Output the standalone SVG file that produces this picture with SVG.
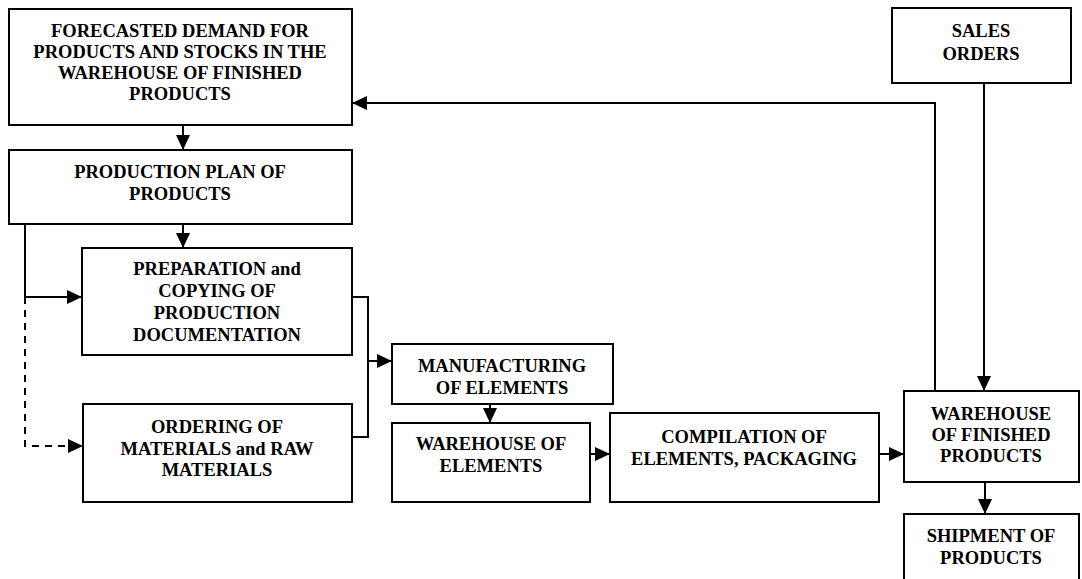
<svg xmlns="http://www.w3.org/2000/svg" width="1082" height="579" viewBox="0 0 1082 579">
  <style>
    .box { fill: #ffffff; stroke: #000000; stroke-width: 2; }
    .lbl { font-family: "Liberation Serif", "Times New Roman", serif; font-weight: bold; font-size: 18.5px; fill: #000000; text-anchor: middle; }
    .wire { fill: none; stroke: #000000; stroke-width: 2; }
    .dash { stroke-dasharray: 7 6; }
  </style>
  <defs>
    <marker id="head" markerUnits="userSpaceOnUse" markerWidth="15" markerHeight="14" refX="15" refY="7" orient="auto">
      <path d="M0,0 L15,7 L0,14 Z" fill="#000000"/>
    </marker>
  </defs>
  <rect width="1082" height="579" fill="#ffffff"/>

  <g id="connectors">
    <path class="wire" d="M183,125 V150" marker-end="url(#head)"/>
    <path class="wire" d="M183,224 V248" marker-end="url(#head)"/>
    <path class="wire" d="M25,224 V297 H82" marker-end="url(#head)"/>
    <path class="wire dash" d="M25,297 V446 H83" marker-end="url(#head)"/>
    <path class="wire" d="M352,297 H368 V437 H352"/>
    <path class="wire" d="M368,361 H392" marker-end="url(#head)"/>
    <path class="wire" d="M490,404 V423" marker-end="url(#head)"/>
    <path class="wire" d="M590,454 H610" marker-end="url(#head)"/>
    <path class="wire" d="M879,454 H904" marker-end="url(#head)"/>
    <path class="wire" d="M984,83 V391" marker-end="url(#head)"/>
    <path class="wire" d="M935,391 V103 H352" marker-end="url(#head)"/>
    <path class="wire" d="M985,482 V514" marker-end="url(#head)"/>
  </g>

  <g id="forecast">
    <rect class="box" x="9" y="9" width="343" height="116"/>
    <text class="lbl" x="180" y="37">FORECASTED DEMAND FOR</text>
    <text class="lbl" x="180" y="58">PRODUCTS AND STOCKS IN THE</text>
    <text class="lbl" x="180" y="79">WAREHOUSE OF FINISHED</text>
    <text class="lbl" x="180" y="100">PRODUCTS</text>
  </g>

  <g id="production-plan">
    <rect class="box" x="9" y="150" width="343" height="74"/>
    <text class="lbl" x="180" y="178">PRODUCTION PLAN OF</text>
    <text class="lbl" x="180" y="200">PRODUCTS</text>
  </g>

  <g id="documentation">
    <rect class="box" x="82" y="248" width="270" height="107"/>
    <text class="lbl" x="217" y="275">PREPARATION and</text>
    <text class="lbl" x="217" y="297">COPYING OF</text>
    <text class="lbl" x="217" y="319">PRODUCTION</text>
    <text class="lbl" x="217" y="341">DOCUMENTATION</text>
  </g>

  <g id="ordering">
    <rect class="box" x="83" y="404" width="269" height="98"/>
    <text class="lbl" x="217" y="433">ORDERING OF</text>
    <text class="lbl" x="217" y="455">MATERIALS and RAW</text>
    <text class="lbl" x="217" y="476">MATERIALS</text>
  </g>

  <g id="manufacturing">
    <rect class="box" x="392" y="344" width="221" height="60"/>
    <text class="lbl" x="502" y="372">MANUFACTURING</text>
    <text class="lbl" x="502" y="394">OF ELEMENTS</text>
  </g>

  <g id="element-store">
    <rect class="box" x="392" y="423" width="198" height="79"/>
    <text class="lbl" x="491" y="450">WAREHOUSE OF</text>
    <text class="lbl" x="491" y="472">ELEMENTS</text>
  </g>

  <g id="compilation">
    <rect class="box" x="610" y="413" width="269" height="89"/>
    <text class="lbl" x="744" y="443">COMPILATION OF</text>
    <text class="lbl" x="744" y="465">ELEMENTS, PACKAGING</text>
  </g>

  <g id="sales-orders">
    <rect class="box" x="892" y="8" width="179" height="75"/>
    <text class="lbl" x="981" y="37">SALES</text>
    <text class="lbl" x="981" y="60">ORDERS</text>
  </g>

  <g id="finished-store">
    <rect class="box" x="904" y="391" width="175" height="91"/>
    <text class="lbl" x="991" y="420">WAREHOUSE</text>
    <text class="lbl" x="991" y="441">OF FINISHED</text>
    <text class="lbl" x="991" y="462">PRODUCTS</text>
  </g>

  <g id="shipment">
    <rect class="box" x="904" y="514" width="175" height="80"/>
    <text class="lbl" x="991" y="542">SHIPMENT OF</text>
    <text class="lbl" x="991" y="564">PRODUCTS</text>
  </g>
</svg>
